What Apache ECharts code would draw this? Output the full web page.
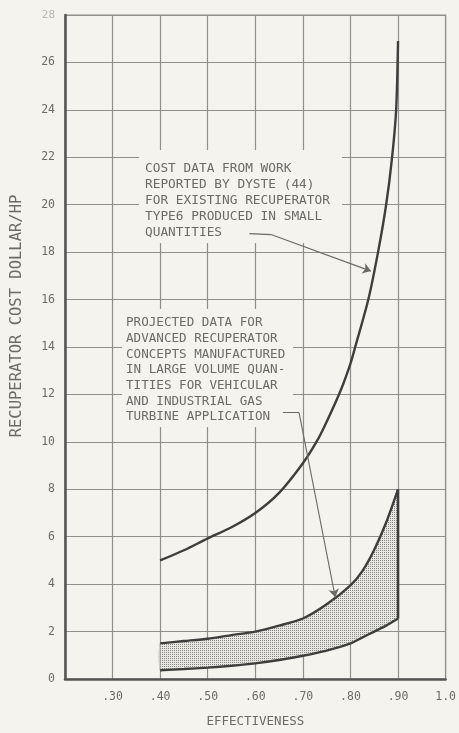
<!DOCTYPE html>
<html>
<head>
<meta charset="utf-8">
<script src="https://cdn.jsdelivr.net/npm/echarts@6/dist/echarts.min.js"></script>
<style>
html,body{margin:0;padding:0;background:#f4f3ee;}
#c{width:459px;height:733px;}
</style>
</head>
<body>
<div id="c"></div>
<script>
// ---- data ----
const xTicks = [0.2, 0.3, 0.4, 0.5, 0.6, 0.7, 0.8, 0.9, 1.0];
const yTicks = [0, 2, 4, 6, 8, 10, 12, 14, 16, 18, 20, 22, 24, 26, 28];

// Dyste cost data (existing recuperators, small quantities)
const dysteEff  = [0.40, 0.45, 0.50, 0.55, 0.60, 0.65, 0.70, 0.73, 0.75, 0.78, 0.80, 0.81, 0.8375, 0.858, 0.875, 0.8875, 0.896, 0.90];
const dysteCost = [5.0, 5.43, 5.93, 6.4, 7.0, 7.85, 9.1, 10.05, 10.85, 12.2, 13.3, 14.0, 16.0, 18.0, 20.0, 22.0, 24.0, 26.9];

// Projected data (advanced recuperators, large volume) - band
const projEff  = [0.40, 0.45, 0.50, 0.55, 0.60, 0.65, 0.70, 0.75, 0.80, 0.825, 0.85, 0.875, 0.90];
const projHigh = [1.5, 1.6, 1.7, 1.85, 2.0, 2.25, 2.55, 3.15, 3.95, 4.55, 5.45, 6.6, 8.0];
const projLow  = [0.37, 0.42, 0.48, 0.56, 0.66, 0.8, 0.98, 1.2, 1.5, 1.75, 2.0, 2.25, 2.55];

const note1 = ['COST DATA FROM WORK', 'REPORTED BY DYSTE (44)', 'FOR EXISTING RECUPERATOR', 'TYPE6 PRODUCED IN SMALL', 'QUANTITIES'];
const note2 = ['PROJECTED DATA FOR', 'ADVANCED RECUPERATOR', 'CONCEPTS MANUFACTURED', 'IN LARGE VOLUME QUAN-', 'TITIES FOR VEHICULAR', 'AND INDUSTRIAL GAS', 'TURBINE APPLICATION'];
// leader line anchors (effectiveness, cost)
const leader1Tail = [[0.5875, 18.78], [0.633, 18.74]];
const leader1Arrow = [[0.633, 18.74], [0.843, 17.2]];
const leader2Tail = [[0.658, 11.23], [0.692, 11.23]];
const leader2Arrow = [[0.692, 11.23], [0.768, 3.45]];

// ---- styling ----
const TXT = '#6b6b68';
const CURVE = '#3e3e3c';
const GRID = '#8e8e8a';
const MONO = '"DejaVu Sans Mono", monospace';

const pc = document.createElement('canvas');
pc.width = 2; pc.height = 2;
const g = pc.getContext('2d');
g.fillStyle = '#e8e7e2'; g.fillRect(0, 0, 2, 2);
g.fillStyle = '#858581'; g.fillRect(0, 0, 1, 1);
const stipple = { image: pc, repeat: 'repeat' };

const chart = echarts.init(document.getElementById('c'), null, { renderer: 'canvas' });

const leaderStyle = { color: '#6a6a67', width: 1.1, opacity: 1 };

const option = {
  backgroundColor: '#f4f3ee',
  animation: false,
  grid: { left: 65, right: 11, top: 15, bottom: 47, show: true, borderColor: GRID, borderWidth: 1.2, backgroundColor: 'transparent' },
  xAxis: {
    type: 'value', min: xTicks[0], max: xTicks[xTicks.length - 1], interval: 0.1,
    axisLine: { show: true, lineStyle: { color: '#555553', width: 2.5 } },
    axisTick: { show: false },
    splitLine: { show: true, lineStyle: { color: GRID, width: 1.2 } },
    axisLabel: {
      margin: 12, color: TXT, fontFamily: MONO, fontSize: 11.5,
      formatter: v => {
        const k = Math.round(v * 100);
        if (k === 20) return '';
        if (k === 100) return '1.0';
        return '.' + k;
      }
    },
    name: 'EFFECTIVENESS', nameLocation: 'middle', nameGap: 36,
    nameTextStyle: { color: TXT, fontFamily: MONO, fontSize: 12.5 }
  },
  yAxis: {
    type: 'value', min: yTicks[0], max: yTicks[yTicks.length - 1], interval: 2,
    axisLine: { show: true, lineStyle: { color: '#555553', width: 2.5 } },
    axisTick: { show: false },
    splitLine: { show: true, lineStyle: { color: GRID, width: 1.2 } },
    axisLabel: {
      margin: 10, color: TXT, fontFamily: MONO, fontSize: 11.5,
      formatter: v => (v === 28 ? '{f|28}' : String(v)),
      rich: { f: { color: '#b8b8b3', fontFamily: MONO, fontSize: 11 } }
    }
  },
  graphic: [
    { type: 'rect', z: 5, shape: { x: 139, y: 150, width: 203, height: 93 }, style: { fill: '#f4f3ee' } },
    { type: 'text', z: 6, x: 145, y: 161, style: { text: note1.join('\n'), font: '12.8px ' + MONO, fill: TXT, lineHeight: 16, verticalAlign: 'top' } },
    { type: 'rect', z: 5, shape: { x: 122, y: 309, width: 171, height: 118 }, style: { fill: '#f4f3ee' } },
    { type: 'text', z: 6, x: 126, y: 315, style: { text: note2.join('\n'), font: '12.6px ' + MONO, fill: TXT, lineHeight: 15.7, verticalAlign: 'top' } },
    { type: 'text', z: 6, x: 17, y: 316, rotation: Math.PI / 2, style: { text: 'RECUPERATOR COST DOLLAR/HP', font: '15.5px ' + MONO, fill: TXT, align: 'center', verticalAlign: 'middle' } }
  ],
  series: [
    {
      type: 'custom', z: 1, data: [0],
      renderItem: (params, api) => {
        const top = projEff.map((x, i) => api.coord([x, projHigh[i]]));
        const bot = projEff.map((x, i) => api.coord([x, projLow[i]])).reverse();
        const n = projEff.length - 1;
        const rTop = api.coord([projEff[n], projHigh[n]]);
        const rBot = api.coord([projEff[n], projLow[n]]);
        const lTop = api.coord([projEff[0], projHigh[0]]);
        const lBot = api.coord([projEff[0], projLow[0]]);
        return {
          type: 'group',
          children: [
            { type: 'polygon', shape: { points: top.concat(bot), smooth: 0.15 }, style: { fill: stipple, stroke: null } },
            { type: 'line', shape: { x1: rTop[0], y1: rTop[1], x2: rBot[0], y2: rBot[1] }, style: { stroke: CURVE, lineWidth: 2.5 } },
            { type: 'line', shape: { x1: lTop[0], y1: lTop[1], x2: lBot[0], y2: lBot[1] }, style: { stroke: '#9a9a96', lineWidth: 1 } }
          ]
        };
      }
    },
    {
      type: 'line', z: 3, smooth: 0.3, showSymbol: false, symbol: 'none',
      data: dysteEff.map((x, i) => [x, dysteCost[i]]),
      lineStyle: { color: CURVE, width: 2.4 }
    },
    {
      type: 'line', z: 3, smooth: 0.25, showSymbol: false, symbol: 'none',
      data: projEff.map((x, i) => [x, projHigh[i]]),
      lineStyle: { color: CURVE, width: 2.4 }
    },
    {
      type: 'line', z: 3, smooth: 0.25, showSymbol: false, symbol: 'none',
      data: projEff.map((x, i) => [x, projLow[i]]),
      lineStyle: { color: CURVE, width: 2.4 }
    },
    {
      type: 'lines', coordinateSystem: 'cartesian2d', z: 10,
      symbol: ['none', 'none'],
      lineStyle: leaderStyle,
      data: [{ coords: leader1Tail }, { coords: leader2Tail }]
    },
    {
      type: 'lines', coordinateSystem: 'cartesian2d', z: 10,
      symbol: ['none', 'arrow'], symbolSize: 8,
      lineStyle: leaderStyle,
      itemStyle: { color: '#6a6a67' },
      data: [{ coords: leader1Arrow }, { coords: leader2Arrow }]
    }
  ]
};
chart.setOption(option);
</script>
</body>
</html>
